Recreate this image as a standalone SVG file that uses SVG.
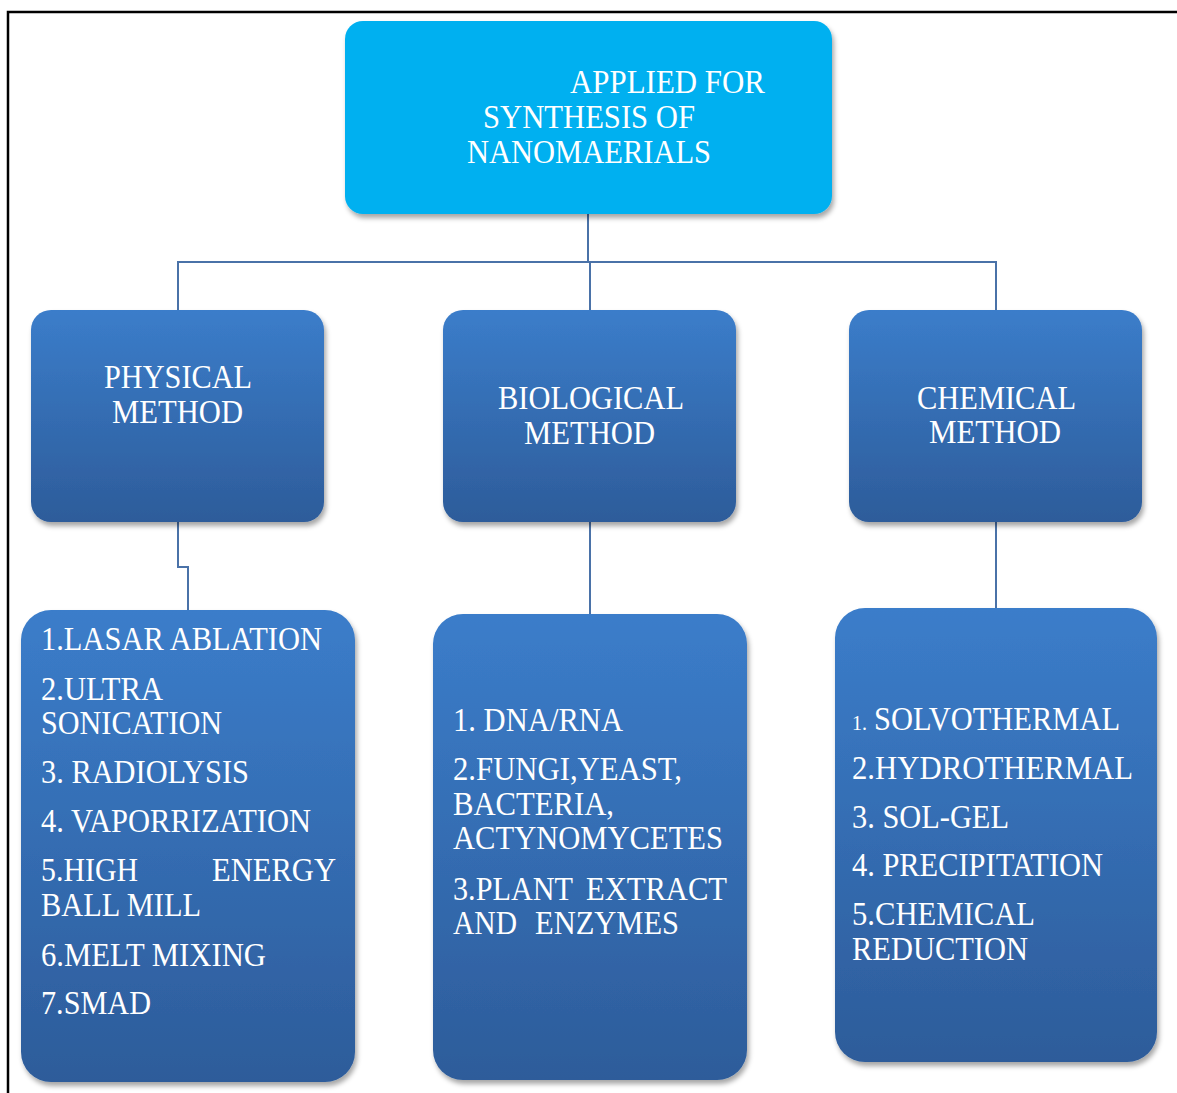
<svg xmlns="http://www.w3.org/2000/svg" width="1177" height="1093" viewBox="0 0 1177 1093">
<style>
.t{font-family:"Liberation Serif","Times New Roman",serif;font-size:33px;fill:#ffffff}
.c{fill:none;stroke:#4a72a8;stroke-width:2}
.b{fill:url(#g)}
</style>
<defs>
<linearGradient id="g" x1="0" y1="0" x2="0" y2="1">
<stop offset="0" stop-color="#3b7dca"/>
<stop offset="1" stop-color="#2d5c9a"/>
</linearGradient>
<filter id="sh" x="-10%" y="-10%" width="120%" height="120%">
<feDropShadow dx="2" dy="4" stdDeviation="2.5" flood-color="#000" flood-opacity="0.35"/>
</filter>
</defs>
<rect x="0" y="0" width="1177" height="1093" fill="#ffffff"/>
<path d="M8,1093 V12 H1177" fill="none" stroke="#000" stroke-width="2.5"/>
<g id="connectors">
<path class="c" d="M588,214 V262"/>
<path class="c" d="M178,310 V262 H996 V310"/>
<path class="c" d="M590,262 V310"/>
<path class="c" d="M178,522 V567 H188 V610"/>
<path class="c" d="M590,522 V614"/>
<path class="c" d="M996,522 V608"/>
</g>
<g id="root">
<rect x="345" y="21" width="487" height="193" rx="18" fill="#00b0f0" filter="url(#sh)"/>
<text class="t" x="570" y="93" textLength="195" lengthAdjust="spacingAndGlyphs">APPLIED FOR</text>
<text class="t" x="483" y="128" textLength="212" lengthAdjust="spacingAndGlyphs">SYNTHESIS OF</text>
<text class="t" x="467" y="163" textLength="244" lengthAdjust="spacingAndGlyphs">NANOMAERIALS</text>
</g>
<g id="physical">
<rect class="b" x="31" y="310" width="293" height="212" rx="20" filter="url(#sh)"/>
<text class="t" x="104" y="388" textLength="148" lengthAdjust="spacingAndGlyphs">PHYSICAL</text>
<text class="t" x="112" y="423" textLength="131" lengthAdjust="spacingAndGlyphs">METHOD</text>
</g>
<g id="biological">
<rect class="b" x="443" y="310" width="293" height="212" rx="20" filter="url(#sh)"/>
<text class="t" x="498" y="409" textLength="186" lengthAdjust="spacingAndGlyphs">BIOLOGICAL</text>
<text class="t" x="524" y="444" textLength="131" lengthAdjust="spacingAndGlyphs">METHOD</text>
</g>
<g id="chemical">
<rect class="b" x="849" y="310" width="293" height="212" rx="20" filter="url(#sh)"/>
<text class="t" x="917" y="409" textLength="159" lengthAdjust="spacingAndGlyphs">CHEMICAL</text>
<text class="t" x="929" y="443" textLength="132" lengthAdjust="spacingAndGlyphs">METHOD</text>
</g>
<g id="physical-list">
<rect class="b" x="21" y="610" width="334" height="472" rx="30" filter="url(#sh)"/>
<text class="t" x="41" y="650" textLength="281" lengthAdjust="spacingAndGlyphs">1.LASAR ABLATION</text>
<text class="t" x="41" y="700" textLength="122" lengthAdjust="spacingAndGlyphs">2.ULTRA</text>
<text class="t" x="41" y="734" textLength="181" lengthAdjust="spacingAndGlyphs">SONICATION</text>
<text class="t" x="41" y="783" textLength="208" lengthAdjust="spacingAndGlyphs">3. RADIOLYSIS</text>
<text class="t" x="41" y="832" textLength="270" lengthAdjust="spacingAndGlyphs">4. VAPORRIZATION</text>
<text class="t" x="41" y="881" textLength="97" lengthAdjust="spacingAndGlyphs">5.HIGH</text>
<text class="t" x="212" y="881" textLength="124" lengthAdjust="spacingAndGlyphs">ENERGY</text>
<text class="t" x="41" y="916" textLength="160" lengthAdjust="spacingAndGlyphs">BALL MILL</text>
<text class="t" x="41" y="966" textLength="225" lengthAdjust="spacingAndGlyphs">6.MELT MIXING</text>
<text class="t" x="41" y="1014" textLength="110" lengthAdjust="spacingAndGlyphs">7.SMAD</text>
</g>
<g id="biological-list">
<rect class="b" x="433" y="614" width="314" height="466" rx="30" filter="url(#sh)"/>
<text class="t" x="453" y="731" textLength="170" lengthAdjust="spacingAndGlyphs">1. DNA/RNA</text>
<text class="t" x="453" y="780" textLength="229" lengthAdjust="spacingAndGlyphs">2.FUNGI,YEAST,</text>
<text class="t" x="453" y="815" textLength="161" lengthAdjust="spacingAndGlyphs">BACTERIA,</text>
<text class="t" x="453" y="849" textLength="270" lengthAdjust="spacingAndGlyphs">ACTYNOMYCETES</text>
<text class="t" x="453" y="900" textLength="120" lengthAdjust="spacingAndGlyphs">3.PLANT</text>
<text class="t" x="586" y="900" textLength="141" lengthAdjust="spacingAndGlyphs">EXTRACT</text>
<text class="t" x="453" y="934" textLength="64" lengthAdjust="spacingAndGlyphs">AND</text>
<text class="t" x="535" y="934" textLength="144" lengthAdjust="spacingAndGlyphs">ENZYMES</text>
</g>
<g id="chemical-list">
<rect class="b" x="835" y="608" width="322" height="454" rx="30" filter="url(#sh)"/>
<text class="t" x="852" y="730" style="font-size:20px">1.</text>
<text class="t" x="874" y="730" textLength="246" lengthAdjust="spacingAndGlyphs">SOLVOTHERMAL</text>
<text class="t" x="852" y="779" textLength="281" lengthAdjust="spacingAndGlyphs">2.HYDROTHERMAL</text>
<text class="t" x="852" y="828" textLength="157" lengthAdjust="spacingAndGlyphs">3. SOL-GEL</text>
<text class="t" x="852" y="876" textLength="251" lengthAdjust="spacingAndGlyphs">4. PRECIPITATION</text>
<text class="t" x="852" y="925" textLength="183" lengthAdjust="spacingAndGlyphs">5.CHEMICAL</text>
<text class="t" x="852" y="960" textLength="176" lengthAdjust="spacingAndGlyphs">REDUCTION</text>
</g>
</svg>
